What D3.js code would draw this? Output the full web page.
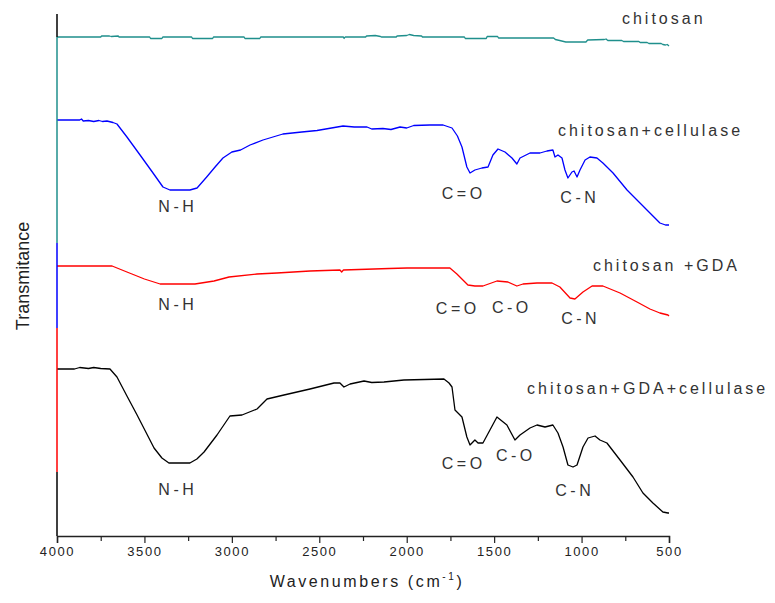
<!DOCTYPE html>
<html>
<head>
<meta charset="utf-8">
<script src="https://cdn.jsdelivr.net/npm/d3@7"></script>
<style>
  body { margin: 0; background: #fff; }
  svg { display: block; font-family: "Liberation Sans", Arial, sans-serif; }
</style>
</head>
<body>
<svg id="chart" width="775" height="603"></svg>
<script>
// ---------------- DATA ----------------
// x: wavenumber (cm-1), y: transmittance (arbitrary offset units)
const xTicksMajor = [4000, 3500, 3000, 2500, 2000, 1500, 1000, 500];
const xTicksMinor = [3750, 3250, 2750, 2250, 1750, 1250, 750];

const chitosan = [
  [4000, 99.8], [3750, 99.8], [3745, 100.0], [3700, 100.0], [3690, 99.9], [3650, 100.0], [3645, 99.8],
  [3470, 99.8], [3465, 99.5], [3400, 99.5], [3395, 99.8], [3230, 99.8], [3225, 99.5], [3110, 99.5],
  [3105, 99.8], [2930, 99.8], [2925, 99.5], [2840, 99.5], [2835, 99.8], [2362, 99.8], [2358, 99.5],
  [2352, 99.8], [2235, 99.8], [2230, 100.0], [2180, 100.1], [2150, 99.9], [2145, 99.8], [2060, 99.8],
  [2055, 100.0], [2000, 100.1], [1985, 100.3], [1960, 100.1], [1915, 100.0], [1910, 99.8], [1670, 99.8],
  [1665, 99.5], [1545, 99.5], [1540, 99.9], [1480, 99.9], [1475, 99.6], [1160, 99.6], [1150, 99.3],
  [1125, 99.1], [1090, 98.8], [975, 98.8], [965, 99.2], [870, 99.3], [860, 99.4], [850, 99.1],
  [770, 99.1], [760, 98.9], [672, 98.9], [665, 98.7], [625, 98.7], [615, 98.5], [545, 98.5],
  [535, 98.3], [520, 98.2], [510, 98.3], [500, 98.0]
];

const chitosanCellulase = [
  [4000, 83.2], [3870, 83.2], [3860, 83.4], [3850, 83.0], [3820, 83.1], [3790, 82.9], [3760, 83.1],
  [3740, 82.9], [3714, 83.0], [3680, 82.7], [3657, 82.4], [3600, 79.8], [3525, 76.2], [3457, 72.9],
  [3394, 69.8], [3354, 69.2], [3240, 69.2], [3199, 69.6], [3144, 71.8], [3096, 73.8], [3051, 75.6],
  [3000, 76.8], [2950, 77.2], [2896, 78.2], [2822, 79.2], [2708, 80.4], [2600, 80.8], [2513, 81.1],
  [2430, 81.6], [2364, 82.0], [2300, 81.8], [2227, 81.8], [2200, 81.4], [2136, 81.5], [2090, 81.3],
  [2038, 81.8], [2000, 81.6], [1960, 82.1], [1867, 82.2], [1792, 82.2], [1741, 81.6], [1710, 80.0],
  [1684, 77.8], [1656, 73.8], [1638, 72.6], [1610, 73.2], [1570, 73.6], [1535, 73.8], [1507, 76.2],
  [1478, 77.4], [1438, 76.8], [1398, 75.6], [1370, 74.4], [1352, 75.6], [1295, 76.6], [1238, 76.6],
  [1198, 77.0], [1164, 77.2], [1152, 75.8], [1135, 76.2], [1112, 75.6], [1095, 73.2], [1078, 71.6],
  [1055, 72.8], [1043, 73.0], [1026, 71.8], [1009, 73.2], [980, 75.2], [952, 75.8], [912, 75.6],
  [878, 74.6], [820, 72.6], [740, 69.2], [666, 66.6], [609, 64.6], [552, 62.6], [520, 62.2], [500, 62.2]
];

const chitosanGDA = [
  [4000, 54.0], [3685, 54.0], [3600, 52.8], [3500, 51.4], [3410, 50.4], [3211, 50.4], [3102, 51.0],
  [3016, 51.8], [2856, 52.4], [2742, 52.6], [2553, 53.0], [2382, 53.2], [2372, 52.8], [2362, 53.2],
  [2187, 53.4], [2100, 53.5], [1998, 53.6], [1781, 53.6], [1753, 53.6], [1713, 52.4], [1650, 50.2],
  [1610, 50.0], [1564, 50.0], [1484, 51.0], [1421, 50.8], [1370, 50.0], [1335, 50.4], [1255, 50.6],
  [1169, 50.6], [1124, 49.8], [1066, 47.6], [1038, 47.4], [992, 48.8], [940, 50.0], [878, 50.0],
  [780, 48.6], [683, 46.8], [609, 45.4], [552, 44.6], [506, 44.2], [500, 44.0]
];

const chitosanGDACellulase = [
  [4000, 33.4], [3900, 33.4], [3870, 33.7], [3820, 33.5], [3790, 33.7], [3750, 33.5], [3697, 33.4],
  [3657, 31.8], [3600, 28.0], [3542, 24.2], [3445, 17.6], [3400, 15.6], [3360, 14.6], [3240, 14.6],
  [3200, 15.4], [3159, 16.8], [3085, 20.2], [3011, 24.0], [2942, 24.2], [2856, 25.4], [2799, 27.4],
  [2702, 28.2], [2553, 29.4], [2416, 30.6], [2382, 30.6], [2359, 29.8], [2324, 30.4], [2244, 31.0],
  [2200, 30.7], [2130, 30.8], [2016, 31.2], [1900, 31.3], [1787, 31.4], [1758, 30.6], [1741, 29.8],
  [1724, 25.2], [1684, 23.8], [1656, 19.8], [1638, 18.2], [1610, 19.2], [1592, 18.6], [1564, 18.6],
  [1524, 21.2], [1484, 23.8], [1427, 22.2], [1381, 19.2], [1352, 20.2], [1295, 21.6], [1255, 22.2],
  [1209, 21.8], [1164, 22.2], [1135, 20.6], [1106, 17.8], [1078, 14.2], [1049, 13.8], [1026, 14.2],
  [992, 17.8], [963, 19.6], [923, 20.0], [895, 19.2], [855, 18.6], [780, 15.2], [706, 11.8],
  [649, 8.6], [592, 6.6], [535, 4.8], [506, 4.6], [500, 4.6]
];

const seriesNames = ["chitosan", "chitosan+cellulase", "chitosan +GDA", "chitosan+GDA+cellulase"];
const seriesColors = ["#1f8f8c", "#0000ff", "#ff0000", "#000000"];
const seriesData = [chitosan, chitosanCellulase, chitosanGDA, chitosanGDACellulase];

// series label anchors [wavenumber, transmittance]
const seriesLabelPos = [[769, 102.4], [1135, 80.0], [935, 53.0], [1312, 28.4]];

// peak annotations: text, wavenumber (center), transmittance (baseline)
const peakLabels = [
  ["N-H", 3319, 64.8], ["C=O", 1684, 67.4], ["C-N", 1020, 66.6],
  ["N-H", 3319, 45.2], ["C=O", 1718, 44.4], ["C-O", 1409, 44.6], ["C-N", 1015, 42.4],
  ["N-H", 3319, 8.2], ["C=O", 1684, 13.4], ["C-O", 1386, 15.0], ["C-N", 1049, 8.0]
];

// left axis coloured segments (transmittance bounds) and colours
const axisSegBounds = [104.4, 99.8, 58.6, 41.6, 12.8, 0];
const axisSegColors = ["#000000", "#1f8f8c", "#0000ff", "#ff0000", "#000000"];

// ---------------- CHART ----------------
const svg = d3.select("#chart");
const margin = { left: 57, right: 106, top: 14, bottom: 67 };
const W = 775, H = 603;

const x = d3.scaleLinear().domain([4000, 500]).range([margin.left, W - margin.right]);
const y = d3.scaleLinear().domain([0, 104.4]).range([H - margin.bottom, margin.top]);

const line = d3.line().x(d => x(d[0])).y(d => y(d[1]));

// curves
seriesData.forEach((s, i) => {
  svg.append("path")
    .datum(s)
    .attr("fill", "none")
    .attr("stroke", seriesColors[i])
    .attr("stroke-width", 1.3)
    .attr("stroke-linejoin", "round")
    .attr("d", line);
});

// left axis segments
for (let i = 0; i < axisSegColors.length; i++) {
  svg.append("line")
    .attr("x1", x(4000)).attr("x2", x(4000))
    .attr("y1", y(axisSegBounds[i])).attr("y2", y(axisSegBounds[i + 1]))
    .attr("stroke", axisSegColors[i])
    .attr("stroke-width", 1.5);
}

// bottom axis
const gx = svg.append("g").attr("transform", `translate(0,${y(0)})`);
gx.call(d3.axisBottom(x).tickValues(xTicksMajor).tickSize(7).tickPadding(4).tickFormat(d3.format("d")));
gx.select(".domain").attr("stroke", "#222").attr("stroke-width", 1.5);
gx.selectAll(".tick line").attr("stroke", "#222").attr("stroke-width", 1.2);
gx.selectAll(".tick text")
  .attr("font-family", "'Liberation Sans', Arial, sans-serif")
  .attr("font-size", 13)
  .attr("letter-spacing", "1.6px")
  .attr("fill", "#222");

const gxm = svg.append("g").attr("transform", `translate(0,${y(0)})`);
gxm.call(d3.axisBottom(x).tickValues(xTicksMinor).tickSize(5).tickFormat(""));
gxm.select(".domain").remove();
gxm.selectAll(".tick line").attr("stroke", "#222").attr("stroke-width", 1.2);

// axis titles
const xt = svg.append("text")
  .attr("x", (x(4000) + x(500)) / 2 + 4)
  .attr("y", 587)
  .attr("text-anchor", "middle")
  .attr("font-size", 16)
  .attr("letter-spacing", "2.6px")
  .attr("fill", "#222");
xt.append("tspan").text("Wavenumbers (cm");
xt.append("tspan").attr("font-size", 10).attr("dy", -7).text("-1");
xt.append("tspan").attr("dy", 7).text(")");

svg.append("text")
  .attr("transform", `translate(29,${(y(104.4) + y(0)) / 2 + 1}) rotate(-90)`)
  .attr("text-anchor", "middle")
  .attr("font-size", 18)
  .attr("fill", "#222")
  .text("Transmitance");

// series labels
seriesNames.forEach((n, i) => {
  svg.append("text")
    .attr("x", x(seriesLabelPos[i][0]))
    .attr("y", y(seriesLabelPos[i][1]))
    .attr("font-size", 16)
    .attr("letter-spacing", "3px")
    .attr("fill", "#333")
    .text(n);
});

// peak labels
peakLabels.forEach(p => {
  const t = svg.append("text")
    .attr("y", y(p[2]))
    .attr("font-size", 16)
    .attr("letter-spacing", "3.5px")
    .attr("fill", "#333")
    .text(p[0]);
  const w = t.node().getComputedTextLength() - 3.5;
  t.attr("x", x(p[1]) - w / 2);
});
</script>
</body>
</html>
